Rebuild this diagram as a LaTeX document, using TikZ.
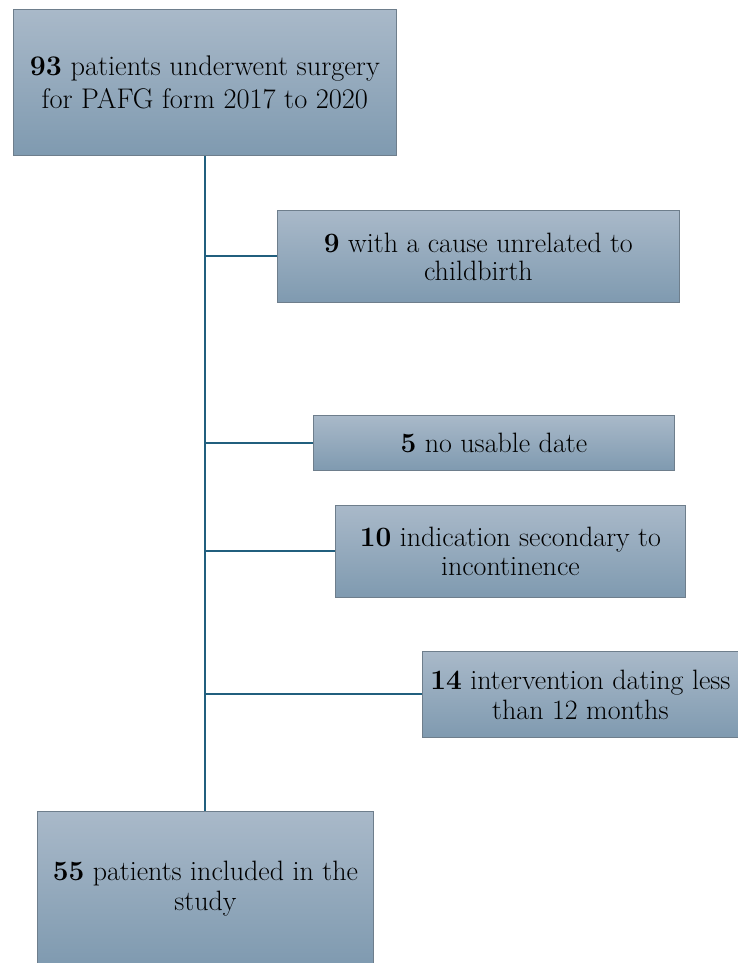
\documentclass[tikz,border=0pt]{standalone}
\usepackage{fontspec}
\begin{document}
\begin{tikzpicture}[x=1pt,y=-1pt,
  box/.style={draw=boxedge,line width=0.8pt,top color=boxtop,bottom color=boxbot,
    align=center,inner sep=0pt,anchor=north west},
  link/.style={draw=linecol,line width=2pt}]
\definecolor{boxtop}{HTML}{A9B9C9}
\definecolor{boxbot}{HTML}{7F9AB0}
\definecolor{boxedge}{HTML}{6E7E8C}
\definecolor{linecol}{HTML}{215F7E}
\useasboundingbox (0,0) rectangle (737,963);
\node[box,minimum width=383pt,minimum height=146pt,font=\fontsize{28.4}{33}\selectfont] (top) at (13,9)
  {\textbf{93} patients underwent surgery\\for PAFG form 2017 to 2020};
\node[box,minimum width=402pt,minimum height=92pt,font=\fontsize{28}{28}\selectfont] (b1) at (277,210)
  {\textbf{9} with a cause unrelated to\\childbirth};
\node[box,minimum width=361pt,minimum height=55pt,font=\fontsize{28}{28}\selectfont] (b2) at (313,415)
  {\textbf{5} no usable date};
\node[box,minimum width=350pt,minimum height=92pt,font=\fontsize{28}{29}\selectfont] (b3) at (335,505)
  {\textbf{10} indication secondary to\\incontinence};
\node[box,minimum width=316pt,minimum height=86pt,font=\fontsize{28}{30}\selectfont] (b4) at (422,651)
  {\textbf{14} intervention dating less\\than 12 months};
\node[box,minimum width=336pt,minimum height=154pt,font=\fontsize{28}{30}\selectfont] (bot) at (37,811)
  {\textbf{55} patients included in the\\study};
\coordinate (j1) at (205,256);
\coordinate (j2) at (205,443);
\coordinate (j3) at (205,551);
\coordinate (j4) at (205,694);
\draw[link] (top.south -| j1) -- (bot.north -| j1);
\draw[link] (j1) -- (b1.west |- j1);
\draw[link] (j2) -- (b2.west |- j2);
\draw[link] (j3) -- (b3.west |- j3);
\draw[link] (j4) -- (b4.west |- j4);
\end{tikzpicture}
\end{document}
